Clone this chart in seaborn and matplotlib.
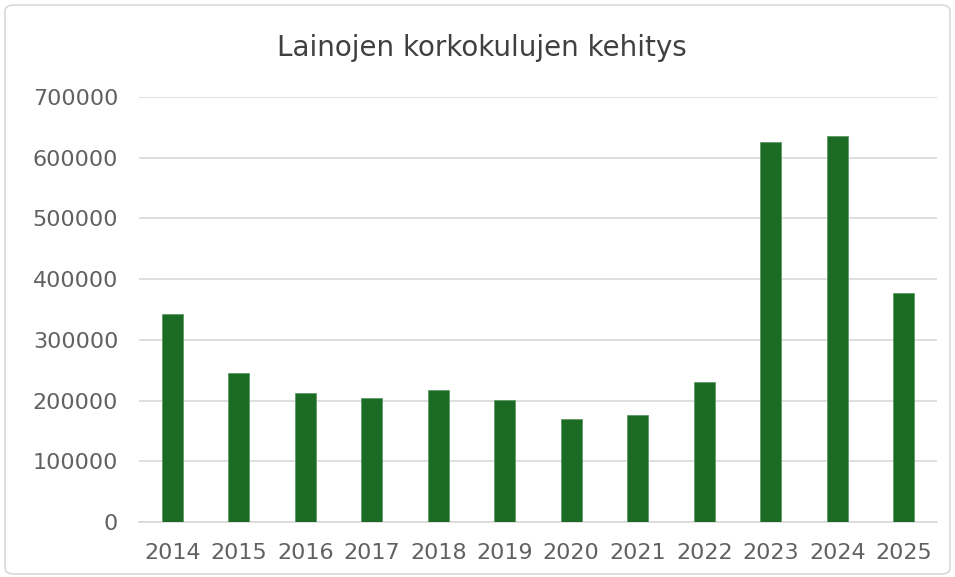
import matplotlib
matplotlib.use("Agg")
import matplotlib.pyplot as plt
import seaborn as sns
import pandas as pd
from matplotlib.patches import FancyBboxPatch

years = ["2014", "2015", "2016", "2017", "2018", "2019", "2020", "2021", "2022", "2023", "2024", "2025"]
costs = [342000, 245000, 212500, 203500, 217000, 201000, 170000, 175500, 230000, 625500, 636000, 376500]
yticks = [0, 100000, 200000, 300000, 400000, 500000, 600000, 700000]
title = "Lainojen korkokulujen kehitys"

sns.set_theme(style="white")
plt.rcParams['font.family'] = ['DejaVu Sans']

df = pd.DataFrame({"year": years, "cost": costs})

fig = plt.figure(figsize=(9.55, 5.77), dpi=100)
ax = fig.add_axes([139/955, 1-522/577, (937-139)/955, (522-97)/577])

sns.barplot(data=df, x="year", y="cost", color="#1B6B25", width=0.32, ax=ax,
            saturation=1, edgecolor="#5E9A66", linewidth=0.6, zorder=3)

ax.set_ylim(0, 700000)
ax.set_xlim(-0.5, len(years) - 0.5)
ax.set_yticks(yticks)
ax.set_yticklabels([str(v) for v in yticks])
ax.yaxis.grid(True, color="#D9D9D9", linewidth=1.2, zorder=0)
ax.set_axisbelow(True)
for s in ["top", "right", "left"]:
    ax.spines[s].set_visible(False)
ax.spines["bottom"].set_color("#D9D9D9")
ax.spines["bottom"].set_linewidth(1.2)
ax.tick_params(axis="both", length=0, labelsize=16, labelcolor="#616161")
ax.tick_params(axis="y", pad=15)
ax.tick_params(axis="x", pad=15)
ax.set_xlabel("")
ax.set_ylabel("")

fig.text(482/955, 1-48/577, title, ha="center", va="center", fontsize=20, color="#404040")

border = FancyBboxPatch((5/955, 3/577), 1-10/955, 1-8/577, boxstyle="round,pad=0,rounding_size=0.01",
                        transform=fig.transFigure, facecolor="none", edgecolor="#D9D9D9", linewidth=1.2)
fig.patches.append(border)

fig.savefig("out.png", dpi=100)
